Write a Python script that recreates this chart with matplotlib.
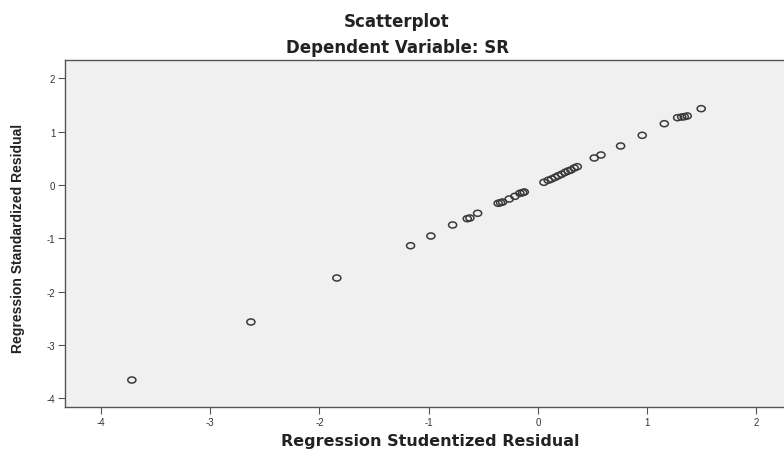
import matplotlib
matplotlib.use("Agg")
import matplotlib.pyplot as plt
from matplotlib.path import Path
from matplotlib.transforms import Affine2D

studentized = [-3.718, -2.628, -1.841, -1.166, -0.980, -0.781, -0.647, -0.623, -0.552,
               -0.364, -0.342, -0.323, -0.263, -0.211, -0.165, -0.140, -0.125,
               0.055, 0.094, 0.125, 0.158, 0.186, 0.217, 0.250, 0.277, 0.302, 0.332, 0.360,
               0.516, 0.577, 0.757, 0.955, 1.157, 1.279, 1.316, 1.340, 1.367, 1.495]
standardized = [-3.659, -2.570, -1.745, -1.139, -0.957, -0.750, -0.632, -0.619, -0.531,
                -0.343, -0.332, -0.319, -0.263, -0.212, -0.156, -0.144, -0.131,
                0.051, 0.088, 0.113, 0.144, 0.174, 0.201, 0.238, 0.263, 0.281, 0.319, 0.343,
                0.507, 0.563, 0.732, 0.932, 1.150, 1.263, 1.276, 1.281, 1.295, 1.432]
xticks = [-4, -3, -2, -1, 0, 1, 2]
yticks = [-4, -3, -2, -1, 0, 1, 2]

plt.rcParams['font.family'] = ['Liberation Sans', 'DejaVu Sans']
plt.rcParams['axes.unicode_minus'] = False

ellipse = Path.unit_circle().transformed(Affine2D().scale(1.0, 0.75))

fig = plt.figure(figsize=(7.84, 4.6), dpi=100)
ax = fig.add_axes([65/784, 1-408/460, 1-65/784, (408-61)/460])
ax.set_facecolor('#f0f0f0')
ax.scatter(studentized, standardized, s=34, marker=ellipse, facecolors='none',
           edgecolors='#3a3a3a', linewidths=1.1)
ax.set_xlim(-4.33, 2.253)
ax.set_ylim(-4.165, 2.345)
ax.set_xticks(xticks)
ax.set_yticks(yticks)
ax.tick_params(direction='out', length=5, width=0.8, colors='#555555', labelsize=7, pad=2)
for lab in ax.get_xticklabels() + ax.get_yticklabels():
    lab.set_color('#333333')
for s in ['left', 'bottom', 'top']:
    ax.spines[s].set_color('#555555')
    ax.spines[s].set_linewidth(1.0)
ax.spines['right'].set_visible(False)

wide = ['DejaVu Sans']
fig.text(397/784, 1-27/460, 'Scatterplot', ha='center', va='baseline', fontsize=12,
         fontweight='bold', color='#222222', family=wide)
fig.text(397/784, 1-53/460, 'Dependent Variable: SR', ha='center', va='baseline', fontsize=12,
         fontweight='bold', color='#222222', family=wide)
fig.text(430/784, 1-446/460, 'Regression Studentized Residual', ha='center', va='baseline',
         fontsize=11.5, fontweight='bold', color='#222222', family=wide)
fig.text(18/784, 1-238/460, 'Regression Standardized Residual', ha='center', va='center', rotation=90,
         fontsize=10, fontweight='bold', color='#222222')

fig.savefig('out.png', dpi=100)
